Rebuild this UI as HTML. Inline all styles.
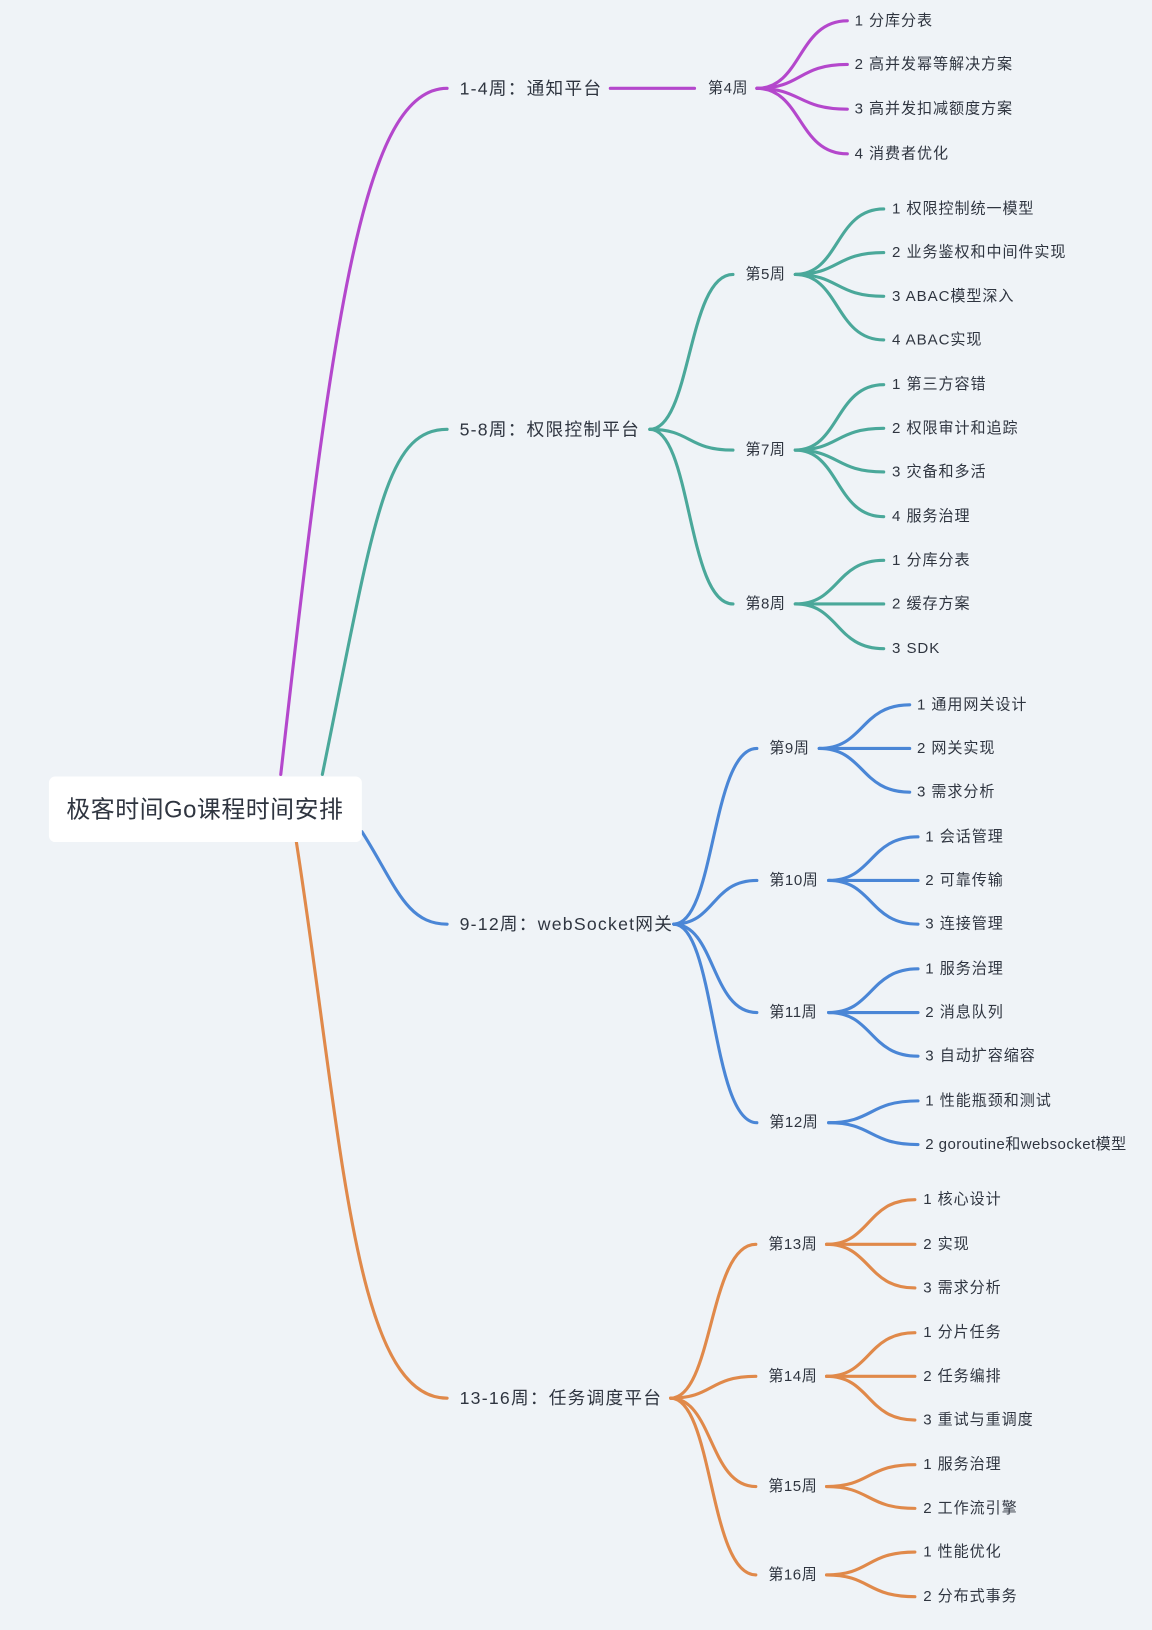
<!DOCTYPE html>
<html><head><meta charset="utf-8">
<style>
html,body{margin:0;padding:0;background:#eff3f7;}
svg{display:block}
text{font-family:"Liberation Sans","Noto Sans CJK SC",sans-serif;fill:#2f3540;dominant-baseline:central}
.l1{font-size:17px;letter-spacing:1.2px}
.wk{font-size:14.5px;letter-spacing:0.5px}
.lf{font-size:14.5px;letter-spacing:0.9px}
</style></head><body>
<svg id="s" width="1152" height="1630" viewBox="0 0 1108 1568" xmlns="http://www.w3.org/2000/svg">
<rect x="0" y="0" width="1108" height="1568" fill="#eff3f7"/>
<g id="paths" fill="none" stroke-width="3" stroke-linecap="round"></g>
<rect x="47" y="747" width="301" height="63" rx="6" fill="#fff"/>
<text x="197" y="779" text-anchor="middle" style="font-size:23px;letter-spacing:0.5px">极客时间Go课程时间安排</text>

<text class="l1" x="442" y="85">1-4周：通知平台</text>
<text class="wk" x="681" y="85">第4周</text>
<text class="lf" x="822" y="20">1 分库分表</text>
<text class="lf" x="822" y="62">2 高并发幂等解决方案</text>
<text class="lf" x="822" y="105">3 高并发扣减额度方案</text>
<text class="lf" x="822" y="148">4 消费者优化</text>

<text class="l1" x="442" y="413">5-8周：权限控制平台</text>
<text class="wk" x="717" y="264">第5周</text>
<text class="wk" x="717" y="433">第7周</text>
<text class="wk" x="717" y="581">第8周</text>
<text class="lf" x="858" y="201">1 权限控制统一模型</text>
<text class="lf" x="858" y="243">2 业务鉴权和中间件实现</text>
<text class="lf" x="858" y="285">3 ABAC模型深入</text>
<text class="lf" x="858" y="327">4 ABAC实现</text>
<text class="lf" x="858" y="370">1 第三方容错</text>
<text class="lf" x="858" y="412">2 权限审计和追踪</text>
<text class="lf" x="858" y="454">3 灾备和多活</text>
<text class="lf" x="858" y="497">4 服务治理</text>
<text class="lf" x="858" y="539">1 分库分表</text>
<text class="lf" x="858" y="581">2 缓存方案</text>
<text class="lf" x="858" y="624">3 SDK</text>

<text class="l1" x="442" y="889">9-12周：webSocket网关</text>
<text class="wk" x="740" y="720">第9周</text>
<text class="wk" x="740" y="847">第10周</text>
<text class="wk" x="740" y="974">第11周</text>
<text class="wk" x="740" y="1080">第12周</text>
<text class="lf" x="882" y="678">1 通用网关设计</text>
<text class="lf" x="882" y="720">2 网关实现</text>
<text class="lf" x="882" y="762">3 需求分析</text>
<text class="lf" x="890" y="805">1 会话管理</text>
<text class="lf" x="890" y="847">2 可靠传输</text>
<text class="lf" x="890" y="889">3 连接管理</text>
<text class="lf" x="890" y="932">1 服务治理</text>
<text class="lf" x="890" y="974">2 消息队列</text>
<text class="lf" x="890" y="1016">3 自动扩容缩容</text>
<text class="lf" x="890" y="1059">1 性能瓶颈和测试</text>
<text class="lf" x="890" y="1101" style="letter-spacing:0.4px">2 goroutine和websocket模型</text>

<text class="l1" x="442" y="1345">13-16周：任务调度平台</text>
<text class="wk" x="739" y="1197">第13周</text>
<text class="wk" x="739" y="1324">第14周</text>
<text class="wk" x="739" y="1430">第15周</text>
<text class="wk" x="739" y="1515">第16周</text>
<text class="lf" x="888" y="1154">1 核心设计</text>
<text class="lf" x="888" y="1197">2 实现</text>
<text class="lf" x="888" y="1239">3 需求分析</text>
<text class="lf" x="888" y="1282">1 分片任务</text>
<text class="lf" x="888" y="1324">2 任务编排</text>
<text class="lf" x="888" y="1366">3 重试与重调度</text>
<text class="lf" x="888" y="1409">1 服务治理</text>
<text class="lf" x="888" y="1451">2 工作流引擎</text>
<text class="lf" x="888" y="1493">1 性能优化</text>
<text class="lf" x="888" y="1536">2 分布式事务</text>
</svg>
<script>
var g=document.getElementById('paths'),P='#b447cc',T='#4aa89a',B='#4a86d6',O='#e0894a';
function add(d,c){var p=document.createElementNS('http://www.w3.org/2000/svg','path');p.setAttribute('d',d);p.setAttribute('stroke',c);g.appendChild(p);}
function fan(x1,y1,x2,ys,c){var a=x1+(x2-x1)*0.5,b=x1+(x2-x1)*0.45;ys.forEach(function(y){add('M'+x1+' '+y1+' C'+a+' '+y1+' '+b+' '+y+' '+x2+' '+y,c);});}
add('M270 745 C320 300 350 85 430 85',P);
add('M310 745 C360 500 370 413 430 413',T);
add('M348 800 C380 850 390 889 430 889',B);
add('M285 810 C330 1100 340 1345 430 1345',O);
add('M587 85 L668 85',P);
fan(728,85,815,[20,62,105,148],P);
fan(625,413,705,[264,433,581],T);
fan(765,264,850,[201,243,285,327],T);
fan(765,433,850,[370,412,454,497],T);
fan(765,581,850,[539,581,624],T);
fan(648,889,728,[720,847,974,1080],B);
fan(788,720,875,[678,720,762],B);
fan(797,847,883,[805,847,889],B);
fan(797,974,883,[932,974,1016],B);
fan(797,1080,883,[1059,1101],B);
fan(645,1345,727,[1197,1324,1430,1515],O);
fan(795,1197,880,[1154,1197,1239],O);
fan(795,1324,880,[1282,1324,1366],O);
fan(795,1430,880,[1409,1451],O);
fan(795,1515,880,[1493,1536],O);
</script>
</body></html>
